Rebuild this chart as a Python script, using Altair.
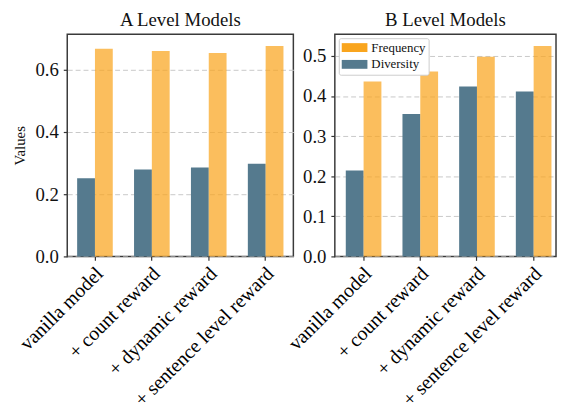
import altair as alt
import pandas as pd

categories = ["vanilla model", "+ count reward", "+ dynamic reward", "+ sentence level reward"]
series_order = ["Diversity", "Frequency"]
legend_order = ["Frequency", "Diversity"]

a_diversity = [0.251, 0.279, 0.286, 0.298]
a_frequency = [0.667, 0.660, 0.654, 0.676]
b_diversity = [0.214, 0.355, 0.424, 0.411]
b_frequency = [0.436, 0.461, 0.498, 0.525]

a_ticks = [0.0, 0.2, 0.4, 0.6]
b_ticks = [0.0, 0.1, 0.2, 0.3, 0.4, 0.5]

FONT = "Liberation Serif"
ORANGE = "#F9A51E"
BLUE = "#557A8E"


def make_df(div, freq):
    rows = []
    for c, d, f in zip(categories, div, freq):
        rows.append({"model": c, "series": "Diversity", "value": d})
        rows.append({"model": c, "series": "Frequency", "value": f})
    return pd.DataFrame(rows)


def panel(df, title, ymax, ticks, ytitle, show_legend, width, pad_outer, align):
    if show_legend:
        legend = alt.Legend(
            title=None, orient="top-left", offset=4,
            labelFont=FONT, labelFontSize=13, labelColor="#111", labelFontWeight="normal",
            symbolType="M-1,-0.69L3,-0.69L3,0.69L-1,0.69Z", symbolSize=169,
            symbolStrokeWidth=0, symbolOpacity=1,
            strokeColor="#cccccc", fillColor="white", padding=3,
            rowPadding=3, labelOffset=17, cornerRadius=2,
        )
    else:
        legend = None
    axis_kw = dict(
        values=ticks, format=".1f", grid=True, domain=False,
        gridDash=[5, 3], gridColor="#c8c8c8", gridWidth=1,
        tickColor="#333", tickSize=4, tickWidth=1.2,
        labelFont=FONT, labelFontSize=19, labelColor="#111", labelPadding=5,
    )
    if ytitle is None:
        yaxis = alt.Axis(title=None, **axis_kw)
    else:
        yaxis = alt.Axis(title=ytitle, titleFont=FONT, titleFontSize=15,
                         titleFontWeight="normal", titleColor="#111", titlePadding=8,
                         **axis_kw)
    return alt.Chart(
        df,
        title=alt.TitleParams(title, font=FONT, fontSize=19, fontWeight="normal",
                              color="#111", offset=4),
    ).mark_bar().encode(
        x=alt.X("model:N", sort=categories, title=None,
                scale=alt.Scale(paddingInner=0.374, paddingOuter=pad_outer, align=align),
                axis=alt.Axis(labelAngle=315, labelAlign="right", labelBaseline="top",
                              labelFont=FONT, labelFontSize=20, labelColor="#000",
                              domain=False, tickColor="#333", tickSize=4, tickWidth=1.2,
                              labelPadding=3, labelOffset=-2, labelLimit=400)),
        xOffset=alt.XOffset("series:N", sort=series_order,
                            scale=alt.Scale(paddingInner=0, paddingOuter=0)),
        y=alt.Y("value:Q", scale=alt.Scale(domain=[0, ymax], nice=False), axis=yaxis),
        color=alt.Color("series:N", scale=alt.Scale(domain=legend_order, range=[ORANGE, BLUE]),
                        legend=legend),
        opacity=alt.condition(alt.datum.series == "Frequency", alt.value(0.72), alt.value(1.0)),
    ).properties(width=width, height=225)


left = panel(make_df(a_diversity, a_frequency), "A Level Models", 0.714, a_ticks,
             "Values", False, 229, 0.174, 0.5)
right = panel(make_df(b_diversity, b_frequency), "B Level Models", 0.554, b_ticks,
              None, True, 224, 0.138, 0.70)

chart = alt.hconcat(left, right, spacing=42, bounds="flush").resolve_scale(
    y="independent", color="independent"
).resolve_legend(color="independent").configure_view(
    stroke="#3a3a3a", strokeWidth=1.5
).configure_axis(labelFont=FONT, titleFont=FONT).configure_legend(
    labelFont=FONT
).configure_title(font=FONT).properties(
    padding={"left": 3, "top": 0, "right": 0, "bottom": 0}
)

chart.save("out.html", embed_options={"renderer": "svg", "actions": False})
